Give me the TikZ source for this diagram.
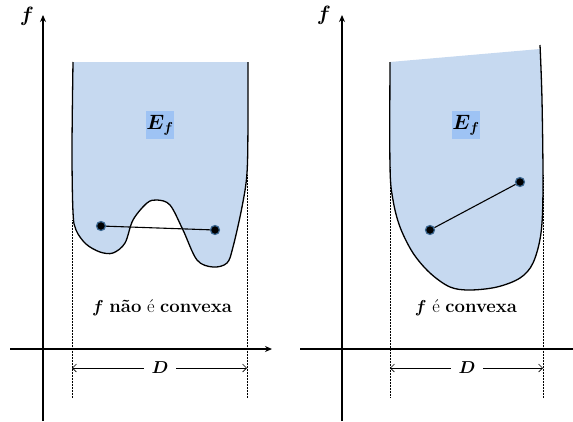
\documentclass[tikz,border=0pt]{standalone}
\usepackage{fontspec}
\usepackage{amsmath}
\usepackage{tikz}
\usetikzlibrary{arrows.meta,positioning,calc}
\definecolor{RegionBlue}{HTML}{C6D9F0}
\definecolor{LabelBlue}{HTML}{9EC3F4}
\definecolor{DotRim}{HTML}{3A6690}
\tikzset{
  % Axes
  ax/.style={-{Stealth[length=7pt,width=6pt]},line width=1.4pt},
  % Region under the graph
  rgn/.style={fill=RegionBlue},
  bnd/.style={line width=1.3pt,line join=round},
  % Points and chord
  pt/.style={circle,fill=black,draw=DotRim,line width=1.2pt,inner sep=0pt,minimum size=9pt},
  chord/.style={line width=1.1pt},
  % Epigraph label
  EF/.style={fill=LabelBlue,inner sep=0pt,minimum width=27pt,minimum height=28pt,font=\fontsize{20}{24}\selectfont},
  % Domain marks
  vdot/.style={densely dotted,line width=0.5pt},
  dim/.style={{Straight Barb[length=4pt]}-{Straight Barb[length=4pt]},line width=0.6pt},
  % Text styles
  TX/.style={font=\fontsize{18.5}{22}\selectfont},
  FL/.style={font=\fontsize{20}{24}\selectfont}
}
\begin{document}
\begin{tikzpicture}[x=1pt,y=-1pt]
  \useasboundingbox (0,0) rectangle (573,421);

  %% left: not convex
  \fill[rgn] (248,62) -- (73,62)
    plot[smooth,tension=0.55] coordinates {(73,62) (72,150) (73,212) (76,230) (86,244) (100,252) (113,253) (125,243) (133,220) (147,203) (157,200) (170,205) (183,230) (197,260) (213,267) (227,263) (233,247) (242,207) (247,173) (248,120) (248,62)} -- cycle;
  \draw[bnd] plot[smooth,tension=0.55] coordinates {(73,62) (72,150) (73,212) (76,230) (86,244) (100,252) (113,253) (125,243) (133,220) (147,203) (157,200) (170,205) (183,230) (197,260) (213,267) (227,263) (233,247) (242,207) (247,173) (248,120) (248,62)};

  \draw[ax] (43,421) -- (43,15);
  \draw[ax] (10,349) -- (272,349);
  \node[FL] (fA) at (27,16) {$\boldsymbol{f}$};

  \node[EF] (efA) at (160,125) {$\boldsymbol{E_f}$};
  \node[pt] (a1) at (101,226) {};
  \node[pt] (a2) at (215,230) {};
  \draw[chord] (a1) -- (a2);

  \node[TX] (txA) at (162,308) {$\boldsymbol{f}$ \textbf{não} é \textbf{convexa}};

  \coordinate (dA1) at (72,220);
  \coordinate (dA2) at (247,175);
  \draw[vdot] (dA1) -- (72,398);
  \draw[vdot] (dA2) -- (247,398);
  \coordinate (lA) at (72,368);
  \coordinate (rA) at (247,368);
  \draw[dim] (lA) -- (rA);
  \node[TX,fill=white,inner xsep=8pt,inner ysep=1pt] (DA) at (160,368) {$\boldsymbol{D}$};

  %% right: convex
  \fill[rgn] (540,49) -- (390,62)
    plot[smooth,tension=0.55] coordinates {(390,62) (390,167) (393,200) (400,227) (413,253) (430,273) (450,287) (470,290) (497,287) (520,278) (533,263) (541,233) (543,187) (542,100) (540,49)} -- cycle;
  \draw[bnd] plot[smooth,tension=0.55] coordinates {(390,62) (390,167) (393,200) (400,227) (413,253) (430,273) (450,287) (470,290) (497,287) (520,278) (533,263) (541,233) (543,187) (542,100) (540,45)};

  \draw[ax] (342,421) -- (342,15);
  \draw[line width=1.4pt] (300,349) -- (573,349);
  \node[FL] (fB) at (324,15) {$\boldsymbol{f}$};

  \node[EF] (efB) at (466,125) {$\boldsymbol{E_f}$};
  \node[pt] (b1) at (430,230) {};
  \node[pt] (b2) at (520,182) {};
  \draw[chord] (b1) -- (b2);

  \node[TX] (txB) at (466,308) {$\boldsymbol{f}$ é \textbf{convexa}};

  \coordinate (dB1) at (390,167);
  \coordinate (dB2) at (543,175);
  \draw[vdot] (dB1) -- (390,398);
  \draw[vdot] (dB2) -- (543,398);
  \coordinate (lB) at (390,368);
  \coordinate (rB) at (543,368);
  \draw[dim] (lB) -- (rB);
  \node[TX,fill=white,inner xsep=8pt,inner ysep=1pt] (DB) at (467,368) {$\boldsymbol{D}$};
\end{tikzpicture}
\end{document}
